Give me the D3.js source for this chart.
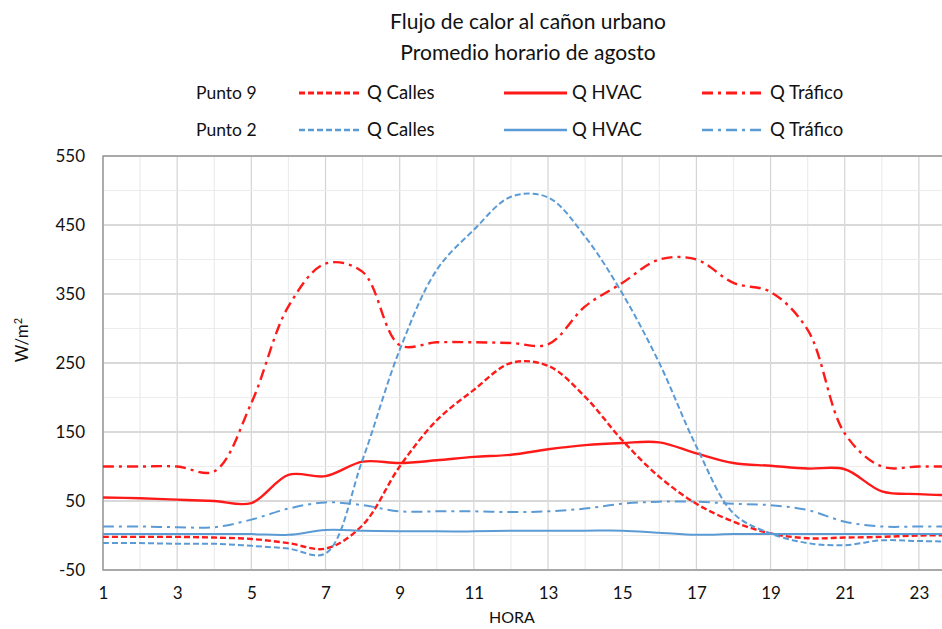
<!DOCTYPE html>
<html>
<head>
<meta charset="utf-8">
<style>
  body { margin: 0; background: #fff; }
  text { font-family: Lato, "Open Sans", sans-serif; fill: #111; }
</style>
</head>
<body>
<div id="chart"></div>
<script src="https://cdn.jsdelivr.net/npm/d3@7"></script>
<script>
// hours 1..24
var hours = d3.range(1, 25);

// Punto 9 (red)
var p9Calles  = [-2, -2, -2, -3, -5, -11, -19, 15, 100, 167, 211, 250, 246, 201, 138, 85, 46, 20, 3, -4, -3, -2, 0, 0];
var p9Hvac    = [55, 54, 52, 50, 47, 88, 86, 107, 105, 109, 114, 117, 125, 131, 134, 135, 119, 105, 101, 97, 96, 64, 60, 58];
var p9Trafico = [100, 100, 100, 93, 192, 332, 394, 382, 276, 280, 280, 279, 277, 332, 366, 400, 400, 366, 353, 298, 148, 100, 100, 100];

// Punto 2 (blue)
var p2Calles  = [-11, -11, -12, -12, -15, -19, -26, 110, 269, 385, 443, 491, 490, 433, 351, 250, 129, 32, 3, -11, -14, -7, -8, -9];
var p2Hvac    = [2, 2, 2, 2, 2, 1, 8, 7, 6, 6, 6, 7, 7, 7, 7, 4, 1, 2, 2, 2, 2, 2, 2, 2];
var p2Trafico = [13, 13, 12, 12, 23, 39, 48, 44, 35, 35, 35, 34, 35, 39, 46, 49, 49, 46, 44, 37, 20, 13, 13, 13];

var xTicks = [1, 3, 5, 7, 9, 11, 13, 15, 17, 19, 21, 23];
var yTicks = [-50, 50, 150, 250, 350, 450, 550];

var red = "#ff1a1a", blue = "#5b9bd5";
var dashStyle = "6,3", dotStyle = "11,5,3,5";

var series = [
  {name: "Q Calles", vals: p9Calles, color: red, dash: dashStyle, w: 2.4},
  {name: "Q HVAC", vals: p9Hvac, color: red, dash: null, w: 2.4},
  {name: "Q Tráfico", vals: p9Trafico, color: red, dash: dotStyle, w: 2.4},
  {name: "Q Calles", vals: p2Calles, color: blue, dash: dashStyle, w: 2},
  {name: "Q HVAC", vals: p2Hvac, color: blue, dash: null, w: 2},
  {name: "Q Tráfico", vals: p2Trafico, color: blue, dash: dotStyle, w: 2}
];

var W = 942, H = 629;
var svg = d3.select("#chart").append("svg").attr("width", W).attr("height", H);

var x = d3.scaleLinear().domain([1, 24]).range([103, 956]);
var y = d3.scaleLinear().domain([-50, 550]).range([570, 156]);

// grid
svg.append("g").selectAll("line").data(d3.range(1, 25))
  .enter().append("line")
  .attr("x1", function(d) { return x(d); }).attr("x2", function(d) { return x(d); })
  .attr("y1", y(550)).attr("y2", y(-50))
  .attr("stroke", function(d) { return d % 2 ? "#d4d4d4" : "#ececec"; })
  .attr("stroke-width", 1.2);
svg.append("g").selectAll("line").data(d3.range(-50, 551, 50))
  .enter().append("line")
  .attr("x1", x(1)).attr("x2", W)
  .attr("y1", function(d) { return y(d); }).attr("y2", function(d) { return y(d); })
  .attr("stroke", function(d) { return (d + 50) % 100 ? "#ececec" : "#d9d9d9"; })
  .attr("stroke-width", function(d) { return (d + 50) % 100 ? 1.2 : 2; });

// plot border
svg.append("rect")
  .attr("x", x(1)).attr("y", y(550))
  .attr("width", x(24) - x(1)).attr("height", y(-50) - y(550))
  .attr("fill", "none").attr("stroke", "#999").attr("stroke-width", 1.5);

// axes
var xAxis = svg.append("g").attr("transform", "translate(0," + y(-50) + ")")
  .call(d3.axisBottom(x).tickValues(xTicks).tickSize(0).tickPadding(17));
var yAxis = svg.append("g").attr("transform", "translate(" + x(1) + ",0)")
  .call(d3.axisLeft(y).tickValues(yTicks).tickSize(0).tickPadding(18)
    .tickFormat(function(d) { return String(d); }));
[xAxis, yAxis].forEach(function(a) {
  a.select(".domain").remove();
  a.selectAll("text").style("font-family", "Lato, sans-serif").style("font-size", "17px").attr("fill", "#111");
});

// lines
var line = d3.line()
  .x(function(d, i) { return x(hours[i]); })
  .y(function(d) { return y(d); })
  .curve(d3.curveCatmullRom);

svg.append("g").selectAll("path").data(series)
  .enter().append("path")
  .attr("d", function(s) { return line(s.vals); })
  .attr("fill", "none")
  .attr("stroke", function(s) { return s.color; })
  .attr("stroke-width", function(s) { return s.w; })
  .attr("stroke-dasharray", function(s) { return s.dash; });

// titles
svg.append("text").attr("x", 528).attr("y", 29).attr("text-anchor", "middle")
  .style("font-size", "21px").text("Flujo de calor al cañon urbano");
svg.append("text").attr("x", 528).attr("y", 60).attr("text-anchor", "middle")
  .style("font-size", "21px").text("Promedio horario de agosto");

svg.append("text").attr("x", 512).attr("y", 623).attr("text-anchor", "middle")
  .style("font-size", "16px").text("HORA");
svg.append("text").attr("transform", "translate(28,340) rotate(-90)").attr("text-anchor", "middle")
  .style("font-size", "17px")
  .text("W/m").append("tspan").attr("dy", -6).style("font-size", "11px").text("2");

// legend
var rows = [{label: "Punto 9", y: 93, items: series.slice(0, 3)},
            {label: "Punto 2", y: 130, items: series.slice(3)}];
var colX = [299, 504, 702];
rows.forEach(function(r) {
  svg.append("text").attr("x", 196).attr("y", r.y + 6).style("font-size", "17.5px").text(r.label);
  r.items.forEach(function(s, i) {
    svg.append("line").attr("x1", colX[i]).attr("x2", colX[i] + 63)
      .attr("y1", r.y).attr("y2", r.y)
      .attr("stroke", s.color).attr("stroke-width", s.w + 0.4)
      .attr("stroke-dasharray", s.dash);
    svg.append("text").attr("x", colX[i] + 68).attr("y", r.y + 6)
      .style("font-size", "18.5px").text(s.name);
  });
});
</script>
</body>
</html>
